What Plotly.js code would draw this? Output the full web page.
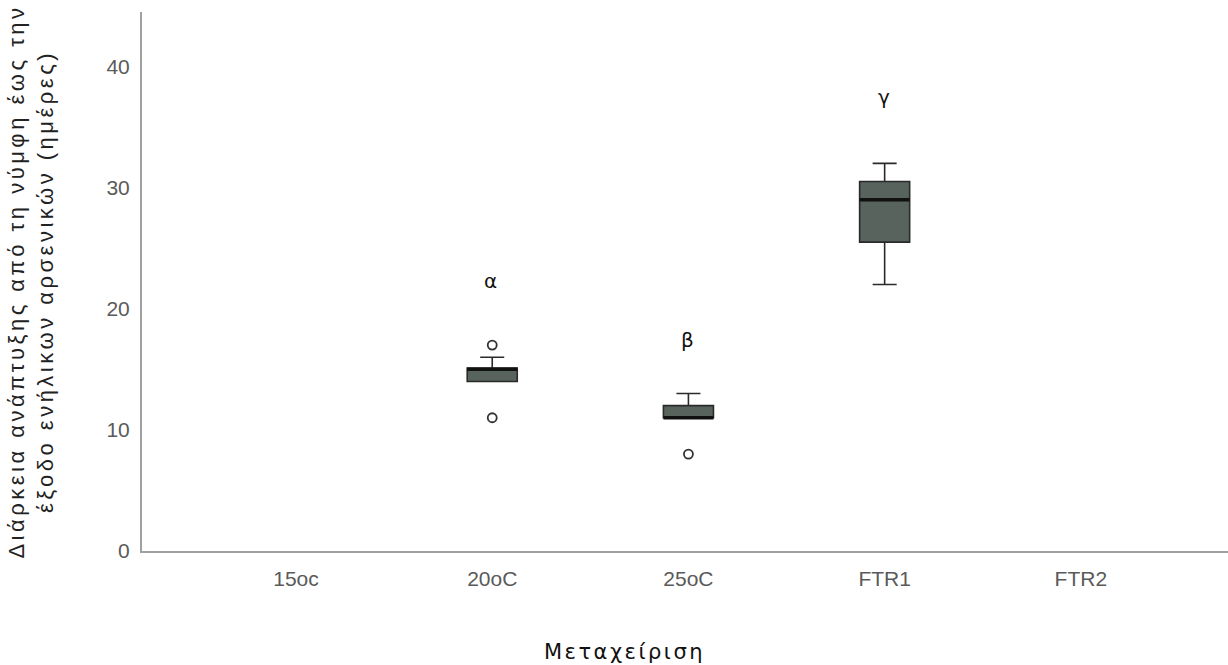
<!DOCTYPE html>
<html>
<head>
<meta charset="utf-8">
<script src="https://cdn.plot.ly/plotly-3.0.1.min.js"></script>
<style>
html,body{margin:0;padding:0;background:#fff;}
#chart{width:1228px;height:665px;}
.ytitle{letter-spacing:3.5px;}
.annotation-text{letter-spacing:2.5px;}
</style>
</head>
<body>
<div id="chart"></div>
<script>
// Data
const categories = ['15oc', '20oC', '25oC', 'FTR1', 'FTR2'];
const boxGroups = ['20oC', '25oC', 'FTR1'];
const q1 = [14, 11, 25.5];
const medians = [15, 11, 29];
const q3 = [15.1, 12, 30.5];
const lowerFence = [14, 11, 22];
const upperFence = [16, 13, 32];
const outlierX = ['20oC', '20oC', '25oC'];
const outlierY = [17, 11, 8];
const letterX = ['20oC', '25oC', 'FTR1'];
const letterY = [22.3, 17.4, 37.5];
const letters = ['α', 'β', 'γ'];

const BOX_W = 0.255;
const traces = [
  {
    type: 'box',
    x: boxGroups,
    q1: q1, median: medians, q3: q3,
    lowerfence: lowerFence, upperfence: upperFence,
    width: BOX_W,
    whiskerwidth: 0.48,
    fillcolor: '#58635e',
    line: {color: '#2a2a2a', width: 1.6},
    boxpoints: false,
    hoverinfo: 'skip',
    showlegend: false
  },
  {
    type: 'scatter', mode: 'markers',
    x: outlierX, y: outlierY,
    marker: {symbol: 'circle-open', size: 9, color: '#333', line: {width: 1.8, color: '#333'}},
    showlegend: false, hoverinfo: 'skip'
  }
];

const shapes = boxGroups.map((g, i) => {
  const idx = categories.indexOf(g);
  return {type: 'line', xref: 'x', yref: 'y', x0: idx - BOX_W / 2, x1: idx + BOX_W / 2,
          y0: medians[i], y1: medians[i], line: {color: '#111', width: 3.5}};
});

const annotations = letters.map((t, i) => ({
  x: letterX[i], y: letterY[i], xref: 'x', yref: 'y', text: t, showarrow: false,
  font: {family: 'DejaVu Sans', size: 20, color: '#111'}
}));
annotations.push({
  x: (624 - 142) / (1228 - 142), y: -(652 - 551) / (551 - 12),
  xref: 'paper', yref: 'paper', text: 'Μεταχείριση', showarrow: false,
  xanchor: 'center', yanchor: 'middle',
  font: {family: 'DejaVu Sans', size: 21, color: '#111'}
});

const layout = {
  width: 1228, height: 665,
  margin: {l: 142, r: 0, t: 12, b: 114},
  paper_bgcolor: '#fff', plot_bgcolor: '#fff',
  boxmode: 'overlay',
  xaxis: {
    type: 'category', categoryorder: 'array', categoryarray: categories,
    range: [-0.785, 4.75],
    showline: true, linecolor: '#a0a0a0', linewidth: 2,
    showgrid: false, zeroline: false, ticks: '',
    tickfont: {family: 'Liberation Sans, Arial', size: 21, color: '#5a5a5a'},
    ticklabelstandoff: 8
  },
  yaxis: {
    range: [0, 44.5], tickvals: [0, 10, 20, 30, 40],
    showline: true, linecolor: '#a0a0a0', linewidth: 2,
    showgrid: false, zeroline: false, ticks: '',
    tickfont: {family: 'Liberation Sans, Arial', size: 21, color: '#5a5a5a'},
    ticklabelstandoff: 6,
    title: {
      text: 'Διάρκεια ανάπτυξης από τη νύμφη έως την<br>έξοδο ενήλικων αρσενικών (ημέρες)',
      font: {family: 'Liberation Sans, Arial', size: 22, color: '#222'},
      standoff: 47
    }
  },
  shapes: shapes,
  annotations: annotations
};

Plotly.newPlot('chart', traces, layout, {displayModeBar: false, staticPlot: true});
</script>
</body>
</html>
